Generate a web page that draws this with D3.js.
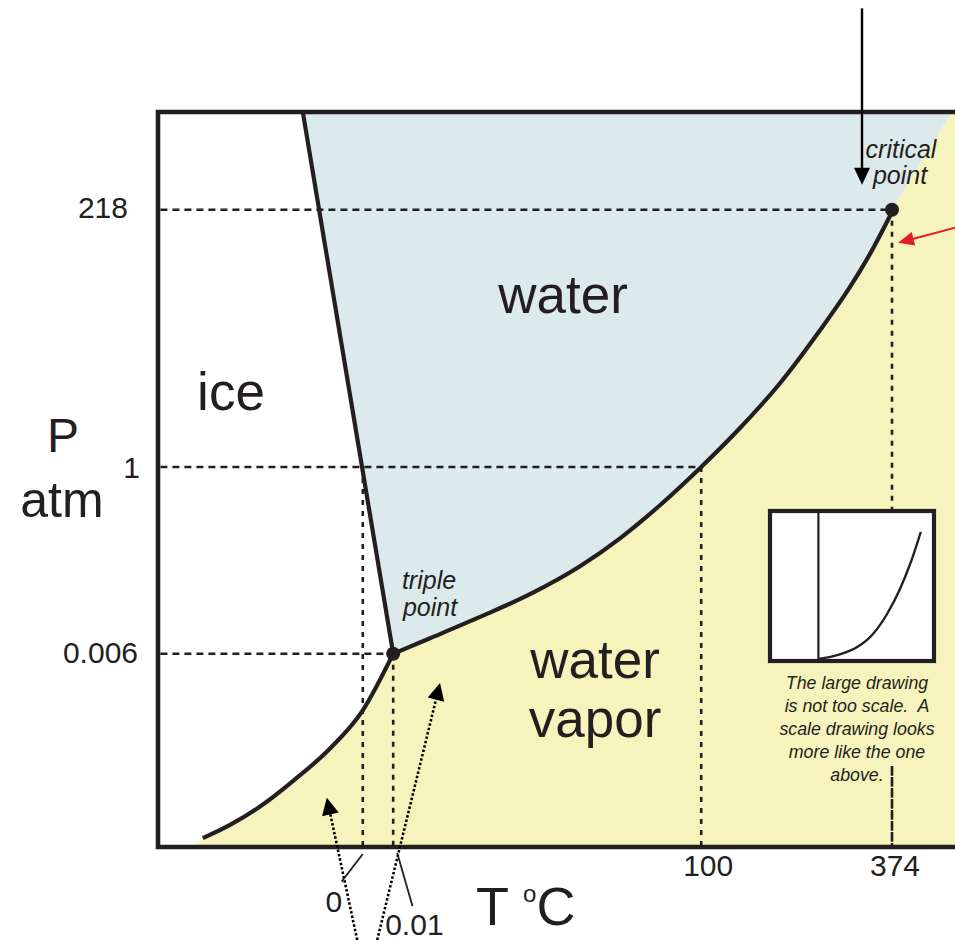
<!DOCTYPE html>
<html>
<head>
<meta charset="utf-8">
<script src="https://cdn.jsdelivr.net/npm/d3@7"></script>
<style>
  body { margin: 0; background: #ffffff; }
  svg { display: block; }
  text { font-family: "Liberation Sans", Arial, sans-serif; fill: #231f20; }
</style>
</head>
<body>
<script>

// Schematic phase diagram of water (not to scale).
// Diagram units: T runs 0..100 left to right, P runs 0..100 bottom to top.

const tempTickLabels = ["0", "0.01", "100", "374"]
const tempTickPos    = [25.6, 29.4, 67.9, 91.75]
const presTickLabels = ["218", "1", "0.006"]
const presTickPos    = [86.7, 51.7, 26.3]

const triplePoint   = [29.4, 26.3]
const criticalPoint = [91.75, 86.7]

// ice / water boundary
const fusionCurve = [[18.1, 100], [29.4, 26.3]]
// ice / vapor boundary
const sublimationCurve = [
  [5.6, 1.2], [9.0, 3.0], [12.75, 5.5], [16.9, 9.0],
  [21.5, 13.4], [25.6, 18.6], [29.4, 26.3]
]
// water / vapor boundary
const vaporCurve = [
  [29.4, 26.3], [34.0, 28.4], [40.25, 31.3], [46.5, 34.4], [52.75, 38.2],
  [57.75, 42.0], [62.75, 46.5], [67.9, 51.7], [72.75, 57.0], [77.75, 63.1],
  [82.75, 70.3], [86.5, 76.2], [89.0, 80.7], [91.75, 86.4]
]
// past the critical point
const supercriticalEdge = [[91.75, 86.7], [99.25, 100]]

// inset: the same diagram drawn to scale (0..1 both ways)
const insetFusion = [[0.29, 0], [0.29, 1]]
const insetVapor = [
  [0.29, 0], [0.42, 0.03], [0.53, 0.08], [0.63, 0.17],
  [0.72, 0.31], [0.8, 0.48], [0.87, 0.67], [0.93, 0.87]
]

const noteLines = [
  "The large drawing",
  "is not too scale.  A",
  "scale drawing looks",
  "more like the one",
  "above."
]

// pointers: [from, to] in diagram units
const pointerCritical = [[88, 114.1], [88, 90.1]]
const pointerRed      = [[100.5, 84.5], [92.5, 82.2]]
const pointerIceVap   = [[24.9, -12.65], [21.1, 6.7]]
const pointerVapor    = [[27.4, -12.65], [35.25, 22.3]]
const leaderZero      = [[25.6, -0.95], [23.1, -4.5]]
const leaderTriple    = [[29.9, -0.8], [31.75, -7.8]]

const ink    = "#231f20"
const blue   = "#dceaeb"
const yellow = "#f6f4bc"

const width = 955, height = 940

const svg = d3.select("body")
  .append("svg")
  .attr("width", width)
  .attr("height", height)

const xScale = d3.scaleLinear().domain([0, 100]).range([158, 958])
const yScale = d3.scaleLinear().domain([0, 100]).range([847, 112])

const px = d => [xScale(d[0]), yScale(d[1])]

const straight = d3.line()
  .x(d => xScale(d[0]))
  .y(d => yScale(d[1]))
const smooth = d3.line()
  .x(d => xScale(d[0]))
  .y(d => yScale(d[1]))
  .curve(d3.curveMonotoneX)

// join a smooth segment onto an open path
const cont = pts => smooth(pts).replace(/^M/, "L")

// ---- phase regions
const waterArea = straight(fusionCurve)
  + cont(vaporCurve)
  + straight(supercriticalEdge).replace(/^M/, "L")
  + "Z"
svg.append("path")
  .attr("d", waterArea)
  .style("fill", blue)

const bottomLeft = [4.4, 0]
const vaporArea = straight([bottomLeft, sublimationCurve[0]])
  + cont(sublimationCurve)
  + cont(vaporCurve)
  + straight([supercriticalEdge[0], supercriticalEdge[1], [106, 100], [106, 0]]).replace(/^M/, "L")
  + "Z"
svg.append("path")
  .attr("d", vaporArea)
  .style("fill", yellow)

// ---- reading guides
const guides = svg.append("g")
  .style("fill", "none")
  .style("stroke", ink)
  .style("stroke-width", 2.6)

const hGuides = [
  [presTickPos[0], tempTickPos[3]],
  [presTickPos[1], tempTickPos[2]],
  [presTickPos[2], tempTickPos[1]]
]
hGuides.forEach(([p, t]) => {
  guides.append("path")
    .attr("d", straight([[0.3, p], [t, p]]))
    .attr("stroke-dasharray", "7,5")
})

const vGuides = [
  [tempTickPos[0], presTickPos[1]],
  [tempTickPos[1], presTickPos[2]],
  [tempTickPos[2], presTickPos[1]],
  [tempTickPos[3], presTickPos[0]]
]
vGuides.forEach(([t, p]) => {
  guides.append("path")
    .attr("d", straight([[t, p], [t, 0]]))
    .attr("stroke-dasharray", "5,6")
})

// ---- phase boundaries
const curves = svg.append("g")
  .style("fill", "none")
  .style("stroke", ink)
  .style("stroke-width", 4.2)
  .style("stroke-linejoin", "round")

curves.append("path").attr("d", straight(fusionCurve))
curves.append("path").attr("d", smooth(sublimationCurve))
curves.append("path").attr("d", smooth(vaporCurve))

svg.selectAll(".phasept")
  .data([triplePoint, criticalPoint])
  .join("circle")
  .attr("class", "phasept")
  .attr("cx", d => xScale(d[0]))
  .attr("cy", d => yScale(d[1]))
  .attr("r", 7)
  .style("fill", ink)

// ---- frame (right side runs off the page)
svg.append("path")
  .attr("d", straight([[110, 100], [0, 100], [0, 0], [110, 0]]))
  .style("fill", "none")
  .style("stroke", ink)
  .style("stroke-width", 4.6)

// ---- inset box
const box = {x: 770, y: 511, w: 164, h: 150}
svg.append("rect")
  .attr("x", box.x)
  .attr("y", box.y + box.h)
  .attr("width", box.w + 2)
  .attr("height", 104)
  .style("fill", yellow)
svg.append("rect")
  .attr("x", box.x)
  .attr("y", box.y)
  .attr("width", box.w)
  .attr("height", box.h)
  .style("fill", "#ffffff")
  .style("stroke", ink)
  .style("stroke-width", 4.2)

const ix = d3.scaleLinear().domain([0, 1]).range([box.x + 2, box.x + box.w - 2])
const iy = d3.scaleLinear().domain([0, 1]).range([box.y + box.h - 2, box.y + 2])
const insetLine = d3.line()
  .x(d => ix(d[0]))
  .y(d => iy(d[1]))
  .curve(d3.curveMonotoneX)

svg.append("path")
  .attr("d", insetLine(insetFusion))
  .style("fill", "none").style("stroke", ink).style("stroke-width", 2.2)
svg.append("path")
  .attr("d", insetLine(insetVapor))
  .style("fill", "none").style("stroke", ink).style("stroke-width", 2.4)

// the 374 guide shows again below the note
svg.append("path")
  .attr("d", straight([[tempTickPos[3], yScale.invert(766)], [tempTickPos[3], 0]]))
  .style("stroke", ink).style("stroke-width", 2.6).style("stroke-dasharray", "5,6")

svg.append("text")
  .attr("text-anchor", "middle")
  .style("font-style", "italic")
  .style("font-size", "17.8px")
  .style("white-space", "pre")
  .selectAll("tspan")
  .data(noteLines)
  .join("tspan")
  .attr("x", box.x + box.w / 2 + 5)
  .attr("y", (d, i) => 689 + i * 23)
  .text(d => d)

// ---- pointers
function pointer(from, to, opts) {
  const a = px(from), b = px(to)
  const dx = b[0] - a[0], dy = b[1] - a[1]
  const L = Math.hypot(dx, dy)
  const ux = dx / L, uy = dy / L
  const base = [b[0] - ux * opts.len, b[1] - uy * opts.len]
  svg.append("line")
    .attr("x1", a[0]).attr("y1", a[1])
    .attr("x2", base[0] + ux * 2).attr("y2", base[1] + uy * 2)
    .style("stroke", opts.color)
    .style("stroke-width", opts.width)
    .style("stroke-dasharray", opts.dash || null)
  if (opts.len > 0) {
    const h = opts.half
    svg.append("polygon")
      .attr("points", [
        b,
        [base[0] - uy * h, base[1] + ux * h],
        [base[0] + uy * h, base[1] - ux * h]
      ].map(p => p.join(",")).join(" "))
      .style("fill", opts.color)
  }
}

pointer(pointerCritical[0], pointerCritical[1], {color: "#000000", width: 2.4, len: 17, half: 8})
pointer(pointerRed[0], pointerRed[1], {color: "#e31e24", width: 2, len: 16, half: 7})
pointer(pointerIceVap[0], pointerIceVap[1], {color: "#000000", width: 2.6, dash: "2.5,2", len: 17, half: 8.5})
pointer(pointerVapor[0], pointerVapor[1], {color: "#000000", width: 2.6, dash: "2.5,2", len: 17, half: 8.5})
pointer(leaderZero[0], leaderZero[1], {color: ink, width: 1.8, len: 0})
pointer(leaderTriple[0], leaderTriple[1], {color: ink, width: 1.8, len: 0})

// ---- tick labels
const tick = "30px"
const presNudge = [128, 140, 138]       // right edges, px
const presBase  = [218, 478, 663]       // baselines, px
svg.selectAll(".ptick")
  .data(presTickLabels)
  .join("text")
  .attr("class", "ptick")
  .attr("text-anchor", "end")
  .attr("x", (d, i) => presNudge[i])
  .attr("y", (d, i) => presBase[i])
  .style("font-size", tick)
  .text(d => d)

const tempAnchor = ["middle", "start", "middle", "middle"]
const tempDx     = [-29, -8, 7, 3]
const tempBase   = [912, 935, 876, 876]
svg.selectAll(".ttick")
  .data(tempTickLabels)
  .join("text")
  .attr("class", "ttick")
  .attr("text-anchor", (d, i) => tempAnchor[i])
  .attr("x", (d, i) => xScale(tempTickPos[i]) + tempDx[i])
  .attr("y", (d, i) => tempBase[i])
  .style("font-size", tick)
  .text(d => d)

// ---- region and axis names
function label(txt, x, y, size, italic) {
  svg.append("text")
    .attr("x", x).attr("y", y)
    .attr("text-anchor", "middle")
    .style("font-size", size)
    .style("font-style", italic ? "italic" : "normal")
    .text(txt)
}

label("water", 563, 313, "53px")
label("ice", 231, 410, "53px")
label("water", 595, 678, "53px")
label("vapor", 595, 737, "53px")
label("P", 63, 452, "48px")
label("atm", 62, 517, "50px")

label("critical", 901, 158, "25px", true)
label("point", 900, 184, "25px", true)
label("triple", 429, 589, "25px", true)
label("point", 430, 616, "25px", true)

const tLabel = svg.append("text")
  .attr("x", 476).attr("y", 925)
  .style("font-size", "54px")
tLabel.append("tspan").text("T ")
tLabel.append("tspan")
  .attr("dy", -23)
  .style("font-size", "24px")
  .text("o")
tLabel.append("tspan")
  .attr("dy", 23)
  .text("C")

</script>
</body>
</html>
